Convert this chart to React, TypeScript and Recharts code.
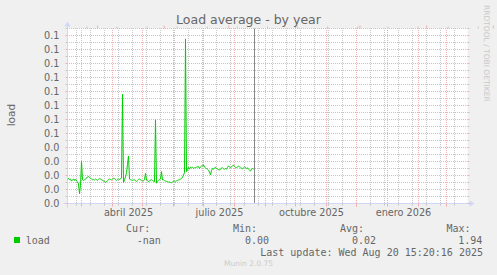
import { LineChart, Line, XAxis, YAxis, CartesianGrid, ReferenceLine, ReferenceDot } from 'recharts'

// daily load average, day 0 = 15 Feb 2025
const loadValues = [
  0.017, 0.018, 0.017, 0.0175, 0.016, 0.017, 0.0175, 0.0165, 0.0175, 0.016,
  0.0155, 0.014, 0.007, 0.013, 0.03, 0.017, 0.0165, 0.017, 0.0175, 0.018,
  0.019, 0.0192, 0.0185, 0.018, 0.0175, 0.017, 0.0172, 0.0168, 0.0175, 0.017,
  0.0165, 0.0172, 0.0178, 0.0175, 0.017, 0.0168, 0.016, 0.0158, 0.0152, 0.0155,
  0.0163, 0.017, 0.0175, 0.0172, 0.0168, 0.0175, 0.018, 0.0178, 0.017, 0.0165,
  0.0172, 0.0175, 0.017, 0.0178, 0.018, 0.078, 0.015, 0.017, 0.019, 0.022,
  0.028, 0.034, 0.0175, 0.017, 0.0168, 0.0165, 0.0168, 0.017, 0.0162, 0.0158,
  0.0165, 0.0172, 0.0175, 0.017, 0.0165, 0.016, 0.0162, 0.017, 0.0215, 0.0168,
  0.0165, 0.0155, 0.016, 0.0168, 0.0172, 0.0165, 0.016, 0.0155, 0.0598, 0.0145,
  0.0158, 0.0165, 0.017, 0.0175, 0.0228, 0.0168, 0.017, 0.0163, 0.016, 0.0158,
  0.0155, 0.0152, 0.0155, 0.015, 0.0148, 0.0153, 0.0158, 0.016, 0.0155, 0.0162,
  0.0165, 0.0168, 0.017, 0.0175, 0.018, 0.0185, 0.0204, 0.022, 0.1176, 0.0228,
  0.024, 0.0258, 0.0245, 0.026, 0.0255, 0.0259, 0.025, 0.0255, 0.0257, 0.026,
  0.0262, 0.0264, 0.025, 0.0262, 0.0268, 0.027, 0.0275, 0.026, 0.0255, 0.025,
  0.0245, 0.0238, 0.0225, 0.0204, 0.0235, 0.025, 0.0245, 0.0255, 0.0259, 0.025,
  0.0245, 0.0242, 0.0238, 0.0248, 0.0252, 0.0255, 0.0248, 0.0245, 0.025, 0.0245,
  0.0258, 0.0268, 0.0262, 0.0257, 0.0262, 0.027, 0.0275, 0.0265, 0.0258, 0.0255,
  0.0263, 0.0268, 0.026, 0.0255, 0.0252, 0.0248, 0.0255, 0.0262, 0.0258, 0.025,
  0.0255, 0.0245, 0.0238, 0.0232, 0.0245, 0.025, 0.0245,
]

// x axis, in days since 15 Feb 2025
const monthStarts = [14, 45, 75, 106, 136, 167, 198, 228, 259, 289, 320, 351, 379]
const fortnights = [9, 23, 37, 51, 65, 79, 93, 107, 121, 135, 149, 163, 177, 191, 205, 219, 233, 247, 261, 275, 289, 303, 317, 331, 345, 359, 373, 387]
const monthLabelDays = [61, 152, 244, 336]
const monthLabels = ['abril 2025', 'julio 2025', 'octubre 2025', 'enero 2026']
const nowDay = 187

// y axis
const yMajor = [0, 0.01, 0.02, 0.03, 0.04, 0.05, 0.06, 0.07, 0.08, 0.09, 0.1, 0.11, 0.12]
const yMajorLabels = ['0.0', '0.0', '0.0', '0.0', '0.0', '0.1', '0.1', '0.1', '0.1', '0.1', '0.1', '0.1', '0.1']
const yMinor = [0.005, 0.015, 0.025, 0.035, 0.045, 0.055, 0.065, 0.075, 0.085, 0.095, 0.105, 0.115, 0.125]

// legend
const statHeads = ['Cur:', 'Min:', 'Avg:', 'Max:']
const statValues = ['-nan', '0.00', '0.02', '1.94']

const data = loadValues.map((load, day) => ({ day, load }))

const FONT = '#666666'
const AXIS = '#cfd6f8'
const GRID = '#c6c6c6'
const MGRID = '#efb0b0'
const SANS = 'DejaVu Sans'
const MONO = 'DejaVu Sans Mono'
const PX = 0.125 / 175

const BottomTick = (props: any) => {
  const { x, y, payload } = props
  const v = payload.value
  const li = monthLabelDays.indexOf(v)
  if (li >= 0) {
    return (
      <text x={x} y={y + 12.8} textAnchor="middle" fontSize={9.7} fontFamily={SANS} fill={FONT}>
        {monthLabels[li]}
      </text>
    )
  }
  const major = monthStarts.includes(v)
  return <line x1={x} x2={x} y1={y} y2={y + (major ? 3 : 2)} stroke={major ? MGRID : GRID} />
}

const TopTick = (props: any) => {
  const { x, y, payload } = props
  const major = monthStarts.includes(payload.value)
  return <line x1={x} x2={x} y1={y} y2={y - (major ? 3 : 2)} stroke={major ? MGRID : GRID} />
}

const LeftTick = (props: any) => {
  const { x, y, payload } = props
  const i = yMajor.indexOf(payload.value)
  if (i >= 0) {
    return (
      <g>
        <line x1={x - 2} x2={x} y1={y} y2={y} stroke={MGRID} />
        <text x={x - 8} y={y} dy="0.36em" textAnchor="end" fontSize={9.7} fontFamily={SANS} fill={FONT}>
          {yMajorLabels[i]}
        </text>
      </g>
    )
  }
  return <line x1={x - 2} x2={x} y1={y} y2={y} stroke={GRID} />
}

const RightTick = (props: any) => {
  const { x, y, payload } = props
  const major = yMajor.includes(payload.value)
  return <line x1={x} x2={x + 2} y1={y} y2={y} stroke={major ? MGRID : GRID} />
}

export default function App() {
  const legendCols = [126.1, 232.9, 340, 446.5]
  const valueCols = [136.7, 245, 352, 458.3]
  return (
    <div style={{ position: 'absolute', left: 0, top: 0, width: 497, height: 275, background: '#f0f0f0' }}>
      <LineChart width={497} height={275} data={data} margin={{ top: 27.5, right: 28.5, bottom: 0, left: 0 }}>
        <CartesianGrid fill="#ffffff" stroke={GRID} strokeDasharray="1 1" strokeDashoffset={0.5} horizontal={false} verticalValues={fortnights} />
        <CartesianGrid stroke={MGRID} strokeDasharray="1 1" strokeDashoffset={0.5} horizontal={false} verticalValues={monthStarts} />
        <XAxis
          dataKey="day"
          type="number"
          domain={[0, 400]}
          allowDataOverflow
          ticks={[...monthStarts, ...fortnights, ...monthLabelDays]}
          interval={0}
          height={71.5}
          tickSize={0}
          tickMargin={0}
          axisLine={false}
          tickLine={false}
          tick={BottomTick}
        />
        <XAxis
          xAxisId="top"
          orientation="top"
          type="number"
          domain={[0, 400]}
          allowDataOverflow
          ticks={[...monthStarts, ...fortnights]}
          interval={0}
          height={1}
          tickSize={0}
          tickMargin={0}
          axisLine={false}
          tickLine={false}
          tick={TopTick}
        />
        <YAxis
          type="number"
          domain={[0, 0.125]}
          allowDataOverflow
          ticks={[...yMajor, ...yMinor]}
          interval={0}
          width={67.5}
          tickSize={0}
          tickMargin={0}
          axisLine={false}
          tickLine={false}
          tick={LeftTick}
        />
        <YAxis
          yAxisId="right"
          orientation="right"
          type="number"
          domain={[0, 0.125]}
          allowDataOverflow
          ticks={[...yMajor, ...yMinor]}
          interval={0}
          width={1}
          tickSize={0}
          tickMargin={0}
          axisLine={false}
          tickLine={false}
          tick={RightTick}
        />
        {yMinor.map((v) => (
          <ReferenceLine key={`n${v}`} y={v} stroke={GRID} strokeDasharray="1 1" strokeDashoffset={0.5} />
        ))}
        {yMajor.slice(1).map((v) => (
          <ReferenceLine key={`m${v}`} y={v} stroke={MGRID} strokeDasharray="1 1" strokeDashoffset={0.5} />
        ))}
        <ReferenceLine x={nowDay} stroke="#8a8a8a" />
        <ReferenceLine segment={[{ x: -4, y: 0 }, { x: 404, y: 0 }]} stroke={AXIS} ifOverflow="visible" />
        <ReferenceLine segment={[{ x: 0, y: -4 * PX }, { x: 0, y: 0.125 + 4 * PX }]} stroke={AXIS} ifOverflow="visible" />
        <ReferenceDot
          x={0}
          y={0.125}
          ifOverflow="visible"
          shape={(p: any) => <polygon points={`${p.cx},${p.cy - 7} ${p.cx - 3},${p.cy - 2} ${p.cx + 3},${p.cy - 2}`} fill={AXIS} />}
        />
        <ReferenceDot
          x={400}
          y={0}
          ifOverflow="visible"
          shape={(p: any) => <polygon points={`${p.cx + 7},${p.cy} ${p.cx + 2},${p.cy - 3} ${p.cx + 2},${p.cy + 3}`} fill={AXIS} />}
        />
        <Line
          dataKey="load"
          type="linear"
          stroke="#00cc00"
          strokeWidth={1}
          dot={false}
          activeDot={false}
          isAnimationActive={false}
        />
      </LineChart>
      <svg width={497} height={275} style={{ position: 'absolute', left: 0, top: 0, pointerEvents: 'none' }}>
        <text x={248.5} y={24} textAnchor="middle" fontSize={12.5} fontFamily={SANS} fill={FONT}>
          Load average - by year
        </text>
        <text transform="translate(15,115) rotate(-90)" textAnchor="middle" fontSize={10.6} fontFamily={SANS} fill={FONT}>
          load
        </text>
        <text transform="translate(483.5,5) rotate(90)" fontSize={7.5} fontFamily={SANS} fill="#c8c8c8">
          RRDTOOL / TOBI OETIKER
        </text>
        {statHeads.map((h, i) => (
          <text key={h} x={legendCols[i]} y={231.5} fontSize={10} fontFamily={MONO} fill={FONT}>
            {h}
          </text>
        ))}
        <rect x={14} y={237} width={6} height={6} fill="#00cc00" />
        <text x={25.7} y={243.5} fontSize={10} fontFamily={MONO} fill={FONT}>
          load
        </text>
        {statValues.map((v, i) => (
          <text key={i} x={valueCols[i]} y={243.5} fontSize={10} fontFamily={MONO} fill={FONT}>
            {v}
          </text>
        ))}
        <text x={483} y={255.5} textAnchor="end" fontSize={10} fontFamily={MONO} fill={FONT}>
          Last update: Wed Aug 20 15:20:16 2025
        </text>
        <text x={248.5} y={266} textAnchor="middle" fontSize={7.5} fontFamily={SANS} fill="#cccccc">
          Munin 2.0.75
        </text>
      </svg>
    </div>
  )
}
